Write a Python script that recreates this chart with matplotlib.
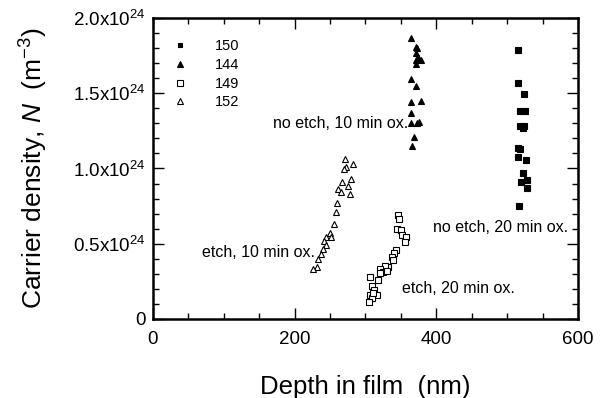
# Carrier density vs depth in film for four samples

import numpy as np
import matplotlib.pyplot as plt
from matplotlib.ticker import MultipleLocator, FuncFormatter

plt.rcParams['font.family'] = ['Liberation Sans', 'DejaVu Sans']
plt.rcParams['mathtext.fontset'] = 'custom'
plt.rcParams['mathtext.rm'] = 'Liberation Sans'
plt.rcParams['mathtext.it'] = 'Liberation Sans:italic'

# Data (depth in nm, density in 1e24 m^-3)
x150 = [515, 516, 524, 518, 525, 518, 524, 522, 515, 518, 516, 527, 523, 519, 528, 528, 517]
y150 = [1.787, 1.566, 1.495, 1.384, 1.384, 1.282, 1.282, 1.267, 1.134, 1.127,
        1.074, 1.054, 0.972, 0.912, 0.924, 0.868, 0.753]

x144 = [364, 371, 373, 371, 374, 372, 379, 371, 365, 371, 365, 378, 364, 365, 376, 373, 368, 366]
y144 = [1.865, 1.810, 1.799, 1.765, 1.743, 1.721, 1.721, 1.692, 1.592, 1.550,
        1.444, 1.451, 1.367, 1.305, 1.311, 1.305, 1.211, 1.152]

x149 = [346, 348, 344, 350, 352, 358, 356, 343, 340, 337, 339, 332, 328, 321, 325,
        331, 320, 306, 318, 310, 312, 316, 306, 309, 305, 311]
y149 = [0.691, 0.664, 0.596, 0.591, 0.558, 0.543, 0.514, 0.458, 0.436, 0.414,
        0.392, 0.348, 0.352, 0.330, 0.314, 0.321, 0.304, 0.277, 0.259, 0.219,
        0.193, 0.159, 0.159, 0.137, 0.115, 0.175]

x152 = [271, 273, 270, 283, 267, 280, 261, 265, 275, 278, 260, 259, 256, 250, 245,
        252, 241, 245, 240, 237, 233, 231, 226]
y152 = [1.063, 1.012, 0.997, 1.030, 0.912, 0.928, 0.864, 0.842, 0.886, 0.831,
        0.769, 0.713, 0.631, 0.574, 0.543, 0.543, 0.520, 0.492, 0.463, 0.432,
        0.397, 0.348, 0.330]

labels = ['150', '144', '149', '152']

fig = plt.figure(figsize=(6.02, 3.98), dpi=100)
ax = fig.add_axes([0.254, 0.1985, 0.706, 0.7565])

ms = 4.0
ax.plot(x150, y150, 's', color='k', ms=ms, mew=0.8, label=labels[0])
ax.plot(x144, y144, '^', color='k', ms=ms + 0.6, mew=0.8, label=labels[1])
ax.plot(x149, y149, 's', mfc='white', mec='k', ms=ms + 0.8, mew=0.8, label=labels[2])
ax.plot(x152, y152, '^', mfc='white', mec='k', ms=ms + 1.0, mew=0.8, label=labels[3])

ax.set_xlim(0, 600)
ax.set_ylim(0, 2.0)

ax.xaxis.set_major_locator(MultipleLocator(200))
ax.xaxis.set_minor_locator(MultipleLocator(50))
ax.yaxis.set_major_locator(MultipleLocator(0.5))
ax.yaxis.set_minor_locator(MultipleLocator(0.1))


def yfmt(v, pos):
    if abs(v) < 1e-9:
        return '0'
    return r'%.1fx10$^{24}$' % v


ax.yaxis.set_major_formatter(FuncFormatter(yfmt))

ax.tick_params(which='both', direction='in', top=True, right=True, width=1)
ax.tick_params(which='major', length=8, labelsize=13.5)
ax.tick_params(axis='x', which='major', pad=9)
ax.tick_params(axis='y', which='major', pad=5)
ax.tick_params(which='minor', length=4)
for s in ax.spines.values():
    s.set_linewidth(1.8)

ax.set_xlabel('Depth in film  (nm)', fontsize=18.5, labelpad=19)
ax.set_ylabel(r'Carrier density, $\mathit{N}$  (m$^{-3}$)', fontsize=19, labelpad=17)

tf = 11.5
ax.text(361, 1.30, 'no etch, 10 min ox.', fontsize=tf, ha='right', va='center')
ax.text(395, 0.605, 'no etch, 20 min ox.', fontsize=tf, ha='left', va='center')
ax.text(229, 0.44, 'etch, 10 min ox.', fontsize=tf, ha='right', va='center')
ax.text(352, 0.20, 'etch, 20 min ox.', fontsize=tf, ha='left', va='center')

leg = ax.legend(loc='upper left', bbox_to_anchor=(0.012, 0.972), frameon=False,
                fontsize=10.5, handlelength=1.2, handletextpad=1.8,
                labelspacing=0.32, markerscale=0.85, borderaxespad=0.5)

fig.savefig('out.png', dpi=100)
